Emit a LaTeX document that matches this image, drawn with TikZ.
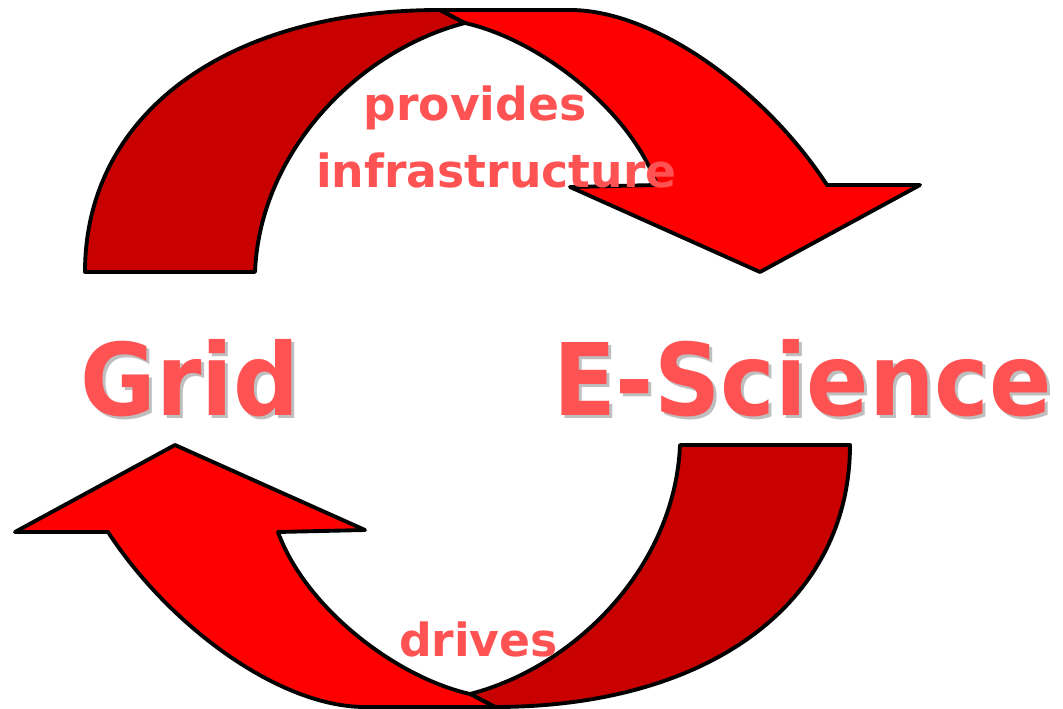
\documentclass[tikz,border=0pt]{standalone}
\usepackage{fontspec}
\setmainfont{DejaVu Sans}
\usetikzlibrary{positioning}
\usetikzlibrary{calc}

\definecolor{backred}{RGB}{200,0,0}
\definecolor{frontred}{RGB}{255,0,0}
\definecolor{labelred}{RGB}{255,82,82}

\begin{document}
\begin{tikzpicture}[x=0.02cm,y=-0.02cm,line join=round,
					big/.style={font=\bfseries\fontsize{57}{64}\selectfont,inner sep=0pt,anchor=base,xscale=0.92,transform shape},
					small/.style={font=\bfseries\fontsize{26}{30}\selectfont,inner sep=0pt,anchor=base,text=labelred}]
					\tikzstyle{band}=[draw=black,line width=2.2pt]
					
					\useasboundingbox (0,0) rectangle (1063,709);
					
					% the two curved arrows, the lower one is the upper one turned round
					\foreach \ang in {0,180}{
						\begin{scope}[rotate around={\ang:(467.5,358.5)}]
							\filldraw[band,fill=backred] (85,272) .. controls (85,115) and (225,10) .. (440,10)
							-- (465,23) .. controls (360,50) and (260,150) .. (255,272) -- cycle;
							\filldraw[band,fill=frontred] (440,10) -- (570,10) .. controls (655,10) and (765,90) .. (827,185)
							-- (920,185) -- (760,272) -- (570,187) -- (657,185)
							.. controls (630,110) and (540,40) .. (465,23) -- cycle;
						\end{scope}
					}
					
					\node[big,text=black!25] (grid_sh) at (193,419) {Grid};
					\node[big,text=labelred] (grid)    at (190,416) {Grid};
					\node[big,text=black!25] (esci_sh) at (805.5,419) {E-Science};
					\node[big,text=labelred] (esci)    at (802.5,416) {E-Science};
					
					\node[small] (provides) at (475,121) {provides};
					\node[small] (infra)    at (496.5,188) {infrastructure};
					\node[small] (drives)   at (478.5,657) {drives};
\end{tikzpicture}
\end{document}
